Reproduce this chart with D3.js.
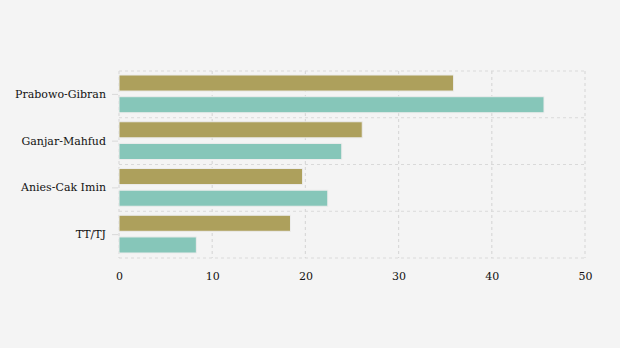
<!DOCTYPE html>
<html><head><meta charset="utf-8">
<script src="https://cdn.jsdelivr.net/npm/d3@7"></script>
<style>
html,body{margin:0;padding:0;background:#f4f4f4;}
svg{display:block;}
</style></head>
<body>
<svg id="chart" width="620" height="348"></svg>
<script>
const categories = ["Prabowo-Gibran", "Ganjar-Mahfud", "Anies-Cak Imin", "TT/TJ"];
const seriesA = [35.9, 26.1, 19.7, 18.4];
const seriesB = [45.6, 23.9, 22.4, 8.3];
const xTicks = [0, 10, 20, 30, 40, 50];
const colors = ["#ada05c", "#86c6b9"];

(function () {
const svg = d3.select("#chart");
const W = 620, H = 348;
svg.append("rect").attr("width", W).attr("height", H).attr("fill", "#f4f4f4");

const mLeft = 119, mRight = 585, mTop = 71, mBottom = 258;
const x = d3.scaleLinear().domain([0, 50]).range([mLeft, mRight]);
const y = d3.scaleBand().domain(categories).range([mTop, mBottom]);
const inner = d3.scaleBand().domain([0, 1]).range([4, y.bandwidth() - 5]).paddingInner(0.26);

const grid = svg.append("g").attr("stroke", "#d9d9d9").attr("stroke-width", 1.2).attr("stroke-dasharray", "3,3").attr("fill", "none");
xTicks.forEach(t => {
  grid.append("line").attr("x1", x(t)).attr("x2", x(t)).attr("y1", mTop).attr("y2", mBottom);
});
const yLines = categories.map(c => y(c)).concat([mBottom]);
yLines.forEach(v => {
  grid.append("line").attr("x1", mLeft).attr("x2", mRight).attr("y1", v).attr("y2", v);
});

const yAxis = d3.axisLeft(y).tickSize(6).tickPadding(6);
const gy = svg.append("g").attr("transform", `translate(${mLeft - 1},0)`).call(yAxis);
gy.select(".domain").remove();
gy.selectAll(".tick line").attr("stroke", "#d9d9d9");
gy.selectAll(".tick text").attr("font-family", "DejaVu Serif").attr("font-size", 11).attr("fill", "#111");

const xAxis = d3.axisBottom(x).tickValues(xTicks).tickSize(0).tickPadding(14);
const gx = svg.append("g").attr("transform", `translate(0,${mBottom})`).call(xAxis);
gx.select(".domain").remove();
gx.selectAll(".tick text").attr("font-family", "DejaVu Serif").attr("font-size", 11).attr("fill", "#111");

const series = [seriesA, seriesB];
series.forEach((vals, si) => {
  svg.append("g").selectAll("rect").data(categories).join("rect")
    .attr("x", x(0))
    .attr("y", (c) => y(c) + inner(si))
    .attr("width", (c, i) => x(vals[i]) - x(0))
    .attr("height", inner.bandwidth())
    .attr("fill", colors[si])
    .attr("stroke", "#ececec")
    .attr("stroke-width", 1);
});
})();
</script>
</body></html>
